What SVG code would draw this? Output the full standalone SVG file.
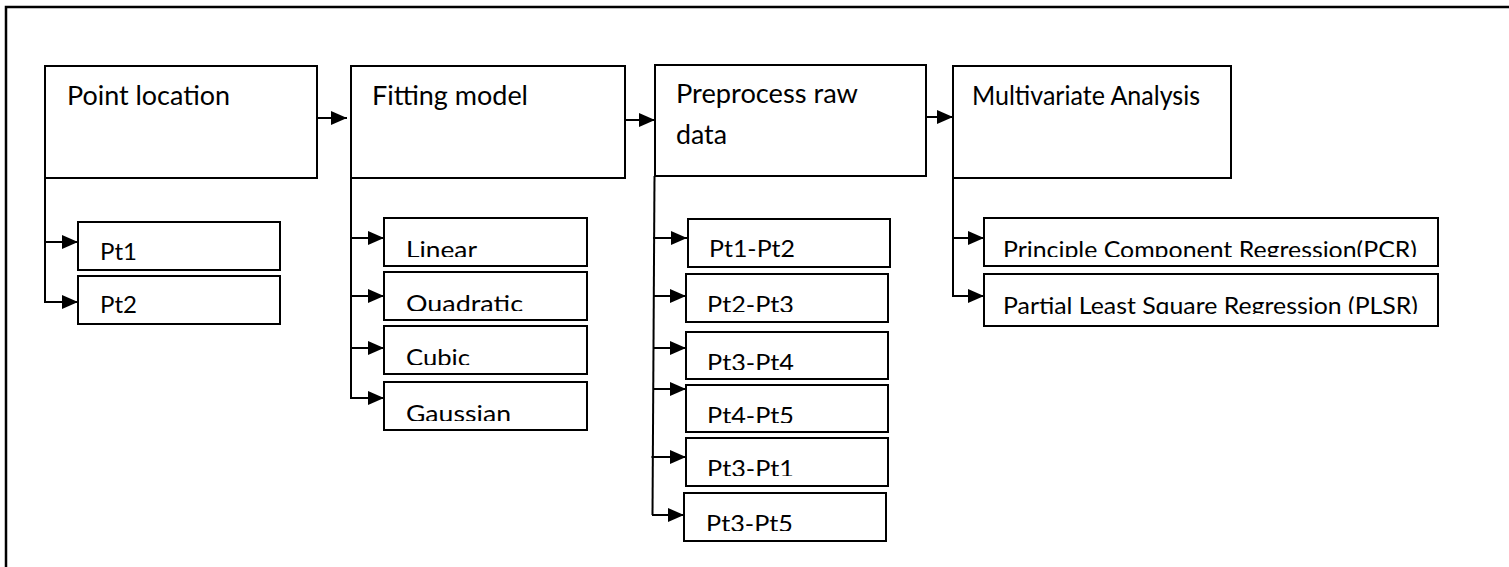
<svg xmlns="http://www.w3.org/2000/svg" width="1509" height="567" viewBox="0 0 1509 567">
<style>
.box{fill:#fff;stroke:#000;stroke-width:2}
.t{font-family:Lato,"Liberation Sans",Arial,sans-serif;font-size:26.5px;fill:#000}
.s{font-family:Lato,"Liberation Sans",Arial,sans-serif;font-size:24px;fill:#000}
.c{fill:none;stroke:#000;stroke-width:2}
</style>
<defs>
<marker id="ah" markerUnits="userSpaceOnUse" markerWidth="16" markerHeight="14" refX="16" refY="7" orient="auto">
<path d="M0,0 L16,7 L0,14 Z" fill="#000"/>
</marker>
<clipPath id="cLin"><rect x="380" y="210" width="210" height="47"/></clipPath>
<clipPath id="cQua"><rect x="380" y="265" width="210" height="46"/></clipPath>
<clipPath id="cCub"><rect x="380" y="320" width="210" height="45"/></clipPath>
<clipPath id="cGau"><rect x="380" y="375" width="210" height="46"/></clipPath>
<clipPath id="cP23"><rect x="680" y="265" width="210" height="47"/></clipPath>
<clipPath id="cP34"><rect x="680" y="325" width="210" height="45"/></clipPath>
<clipPath id="cP45"><rect x="680" y="380" width="210" height="43"/></clipPath>
<clipPath id="cP31"><rect x="680" y="430" width="210" height="46"/></clipPath>
<clipPath id="cP35"><rect x="680" y="485" width="210" height="46"/></clipPath>
<clipPath id="cPCR"><rect x="980" y="210" width="460" height="47"/></clipPath>
<clipPath id="cPLS"><rect x="980" y="265" width="460" height="49"/></clipPath>
</defs>
<rect width="1509" height="567" fill="#fff"/>
<g id="frame"><polyline points="6,567 6,7 1509,7" fill="none" stroke="#000" stroke-width="2.5"/></g>

<g id="connectors">
<line class="c" x1="317" y1="118" x2="347" y2="118" marker-end="url(#ah)"/>
<line class="c" x1="625" y1="120" x2="655" y2="120" marker-end="url(#ah)"/>
<line class="c" x1="926" y1="117" x2="953" y2="117" marker-end="url(#ah)"/>

<line class="c" x1="45" y1="178" x2="45" y2="302"/>
<line class="c" x1="44" y1="242" x2="78" y2="242" marker-end="url(#ah)"/>
<line class="c" x1="44" y1="302" x2="78" y2="302" marker-end="url(#ah)"/>

<line class="c" x1="351" y1="178" x2="351" y2="398"/>
<line class="c" x1="350" y1="238" x2="384" y2="238" marker-end="url(#ah)"/>
<line class="c" x1="350" y1="296" x2="384" y2="296" marker-end="url(#ah)"/>
<line class="c" x1="350" y1="348" x2="384" y2="348" marker-end="url(#ah)"/>
<line class="c" x1="350" y1="398" x2="384" y2="398" marker-end="url(#ah)"/>

<line class="c" x1="654.5" y1="176" x2="652.5" y2="515"/>
<line class="c" x1="653" y1="238" x2="687" y2="238" marker-end="url(#ah)"/>
<line class="c" x1="653" y1="296" x2="686" y2="296" marker-end="url(#ah)"/>
<line class="c" x1="653" y1="348" x2="686" y2="348" marker-end="url(#ah)"/>
<line class="c" x1="653" y1="389" x2="686" y2="389" marker-end="url(#ah)"/>
<line class="c" x1="651.5" y1="457" x2="686" y2="457" marker-end="url(#ah)"/>
<line class="c" x1="652" y1="515" x2="684" y2="515" marker-end="url(#ah)"/>

<line class="c" x1="953" y1="178" x2="953" y2="296"/>
<line class="c" x1="952" y1="238" x2="984" y2="238" marker-end="url(#ah)"/>
<line class="c" x1="952" y1="296" x2="984" y2="296" marker-end="url(#ah)"/>
</g>

<g id="n-point">
<rect class="box" x="45" y="66" width="272" height="112"/>
<text class="t" x="67" y="105" textLength="163" lengthAdjust="spacingAndGlyphs">Point location</text>
</g>
<g id="n-fitting">
<rect class="box" x="351" y="66" width="274" height="112"/>
<text class="t" x="372" y="105" textLength="156" lengthAdjust="spacingAndGlyphs">Fitting model</text>
</g>
<g id="n-preprocess">
<rect class="box" x="655" y="65" width="271" height="111"/>
<text class="t" x="676" y="103" textLength="182" lengthAdjust="spacingAndGlyphs">Preprocess raw</text>
<text class="t" x="676" y="144" textLength="51" lengthAdjust="spacingAndGlyphs">data</text>
</g>
<g id="n-multi">
<rect class="box" x="953" y="66" width="278" height="112"/>
<text class="t" x="972" y="105" textLength="228" lengthAdjust="spacingAndGlyphs">Multivariate Analysis</text>
</g>

<g id="n-pt1">
<rect class="box" x="78" y="222" width="202" height="48"/>
<text class="s" x="100" y="260" textLength="37" lengthAdjust="spacingAndGlyphs">Pt1</text>
</g>
<g id="n-pt2">
<rect class="box" x="78" y="276" width="202" height="48"/>
<text class="s" x="100" y="313" textLength="37" lengthAdjust="spacingAndGlyphs">Pt2</text>
</g>

<g id="n-linear">
<rect class="box" x="384" y="218" width="203" height="48"/>
<text class="s" x="406" y="258" textLength="71" lengthAdjust="spacingAndGlyphs" clip-path="url(#cLin)">Linear</text>
</g>
<g id="n-quadratic">
<rect class="box" x="384" y="272" width="203" height="48"/>
<text class="s" x="406" y="312" textLength="117" lengthAdjust="spacingAndGlyphs" clip-path="url(#cQua)">Quadratic</text>
</g>
<g id="n-cubic">
<rect class="box" x="384" y="326" width="203" height="48"/>
<text class="s" x="406" y="366" textLength="64" lengthAdjust="spacingAndGlyphs" clip-path="url(#cCub)">Cubic</text>
</g>
<g id="n-gaussian">
<rect class="box" x="384" y="382" width="203" height="48"/>
<text class="s" x="406" y="422" textLength="105" lengthAdjust="spacingAndGlyphs" clip-path="url(#cGau)">Gaussian</text>
</g>

<g id="n-p12">
<rect class="box" x="688" y="219" width="202" height="48"/>
<text class="s" x="709" y="257" textLength="86" lengthAdjust="spacingAndGlyphs">Pt1-Pt2</text>
</g>
<g id="n-p23">
<rect class="box" x="686" y="274" width="202" height="48"/>
<text class="s" x="707" y="313" textLength="87" lengthAdjust="spacingAndGlyphs" clip-path="url(#cP23)">Pt2-Pt3</text>
</g>
<g id="n-p34">
<rect class="box" x="686" y="332" width="202" height="47"/>
<text class="s" x="707" y="371" textLength="87" lengthAdjust="spacingAndGlyphs" clip-path="url(#cP34)">Pt3-Pt4</text>
</g>
<g id="n-p45">
<rect class="box" x="686" y="385" width="202" height="47"/>
<text class="s" x="707" y="424" textLength="87" lengthAdjust="spacingAndGlyphs" clip-path="url(#cP45)">Pt4-Pt5</text>
</g>
<g id="n-p31">
<rect class="box" x="686" y="438" width="202" height="48"/>
<text class="s" x="707" y="477" textLength="87" lengthAdjust="spacingAndGlyphs" clip-path="url(#cP31)">Pt3-Pt1</text>
</g>
<g id="n-p35">
<rect class="box" x="684" y="493" width="202" height="48"/>
<text class="s" x="706" y="532" textLength="87" lengthAdjust="spacingAndGlyphs" clip-path="url(#cP35)">Pt3-Pt5</text>
</g>

<g id="n-pcr">
<rect class="box" x="984" y="218" width="454" height="48"/>
<text class="s" x="1003" y="258" textLength="414" lengthAdjust="spacingAndGlyphs" clip-path="url(#cPCR)">Principle Component Regression(PCR)</text>
</g>
<g id="n-plsr">
<rect class="box" x="984" y="274" width="454" height="52"/>
<text class="s" x="1003" y="314" textLength="415" lengthAdjust="spacingAndGlyphs" clip-path="url(#cPLS)">Partial Least Square Regression (PLSR)</text>
</g>
</svg>
